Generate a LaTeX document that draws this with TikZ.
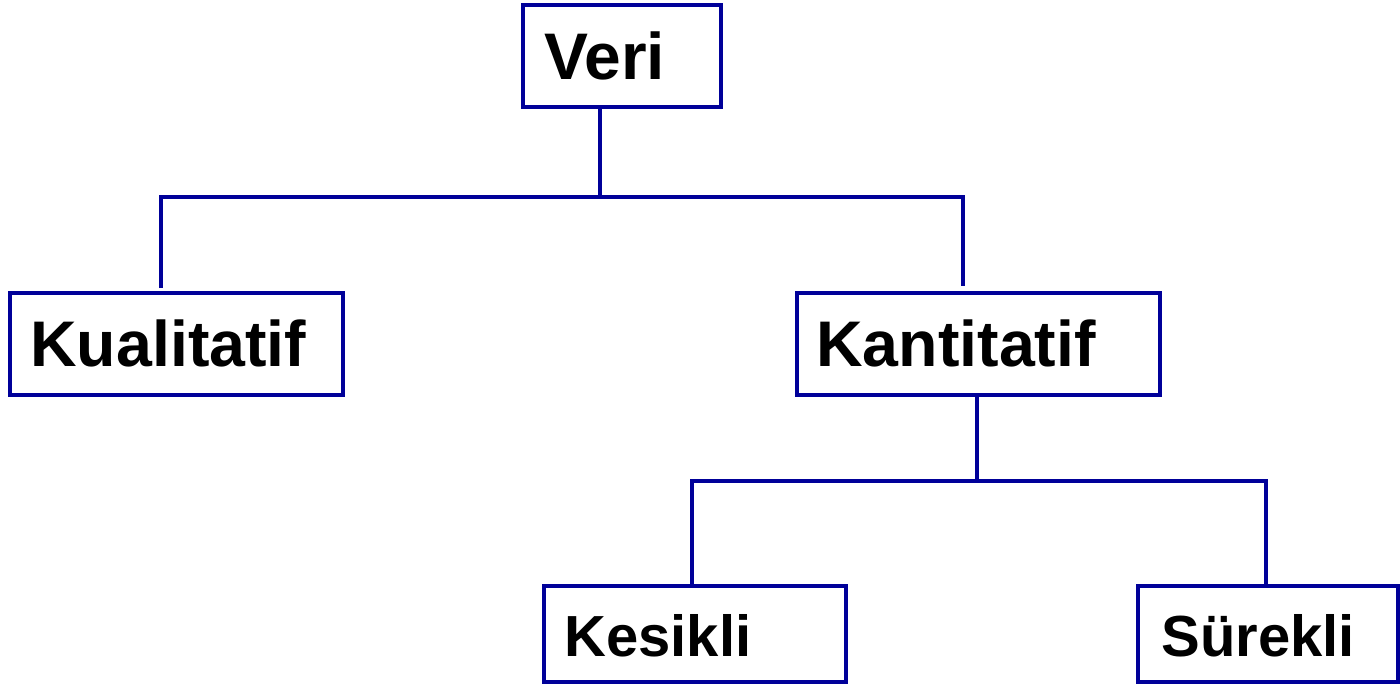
\documentclass[tikz,border=0pt]{standalone}
\usepackage{fontspec}
\setmainfont{Liberation Sans}
\definecolor{lineblue}{RGB}{0,0,153}
\begin{document}
\begin{tikzpicture}[x=0.02cm,y=-0.02cm,
  boxst/.style={draw=lineblue,line width=2.4pt,fill=white},
  conn/.style={draw=lineblue,line width=2.4pt},
  big/.style={anchor=base west,inner sep=0pt,font=\fontsize{36.7}{40}\selectfont\bfseries},
  small/.style={anchor=base west,inner sep=0pt,font=\fontsize{33}{36}\selectfont\bfseries}]
\useasboundingbox (0,0) rectangle (1400,684);
% connectors
\coordinate (j1) at (600,197);
\coordinate (jl) at (161,197);
\coordinate (jr) at (963,197);
\coordinate (kl) at (161,288);
\coordinate (kr) at (963,286);
\coordinate (j2) at (977,481);
\coordinate (ml) at (692,481);
\coordinate (mr) at (1266,481);
\coordinate (nl) at (692,586);
\coordinate (nr) at (1266,586);
\coordinate (vb) at (600,107);
\coordinate (kb) at (977,395);
\draw[conn] (vb) -- (j1);
\draw[conn] (kl) -- (jl) -- (jr) -- (kr);
\draw[conn] (kb) -- (j2);
\draw[conn] (nl) -- (ml) -- (mr) -- (nr);
% boxes
\draw[boxst] (523,5) rectangle (721,107);
\draw[boxst] (10,293) rectangle (343,395);
\draw[boxst] (797,293) rectangle (1160,395);
\draw[boxst] (544,586) rectangle (846,682);
\draw[boxst] (1138,586) rectangle (1398,682);
% texts
\node[big,font=\fontsize{37.5}{40}\selectfont\bfseries] (veri) at (544,79) {Veri};
\node[big] (kual) at (30,366) {Kualitatif};
\node[big] (kant) at (816,366) {Kantitatif};
\node[small] (kes) at (564,656) {Kesikli};
\node[small] (sur) at (1161,656) {Sürekli};
\end{tikzpicture}
\end{document}
